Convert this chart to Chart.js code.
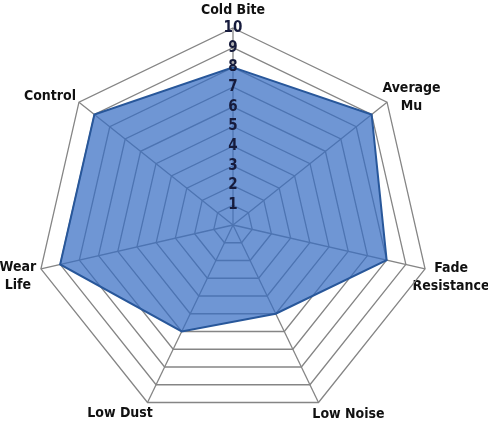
<!DOCTYPE html>
<html>
<head>
<meta charset="utf-8">
<script src="https://cdn.jsdelivr.net/npm/chart.js@4.4.1/dist/chart.umd.min.js"></script>
<style>
  html, body { margin: 0; padding: 0; background: #ffffff; }
  canvas { display: block; }
</style>
</head>
<body>
<canvas id="c" width="488" height="422"></canvas>
<script>
// ---- data ----
const categories = ['Cold Bite', ['Average', 'Mu'], ['Fade', 'Resistance'], 'Low Noise', 'Low Dust', ['Wear', 'Life'], 'Control'];
const ratings = [8, 9, 8, 5, 6, 9, 9];
const tickLabels = ['0', '1', '2', '3', '4', '5', '6', '7', '8', '9', '10'];
const scaleMin = 0;
const scaleMax = 10;

// ---- layout (not data) ----
const CENTER_X = 233, CENTER_Y = 225, RADIUS = 197;
const LABEL_SIZE = 14, LABEL_LH = 1.3;
const LABEL_LINE_HEIGHT = LABEL_SIZE * LABEL_LH;
// label block centre offset from the outer vertex of each spoke
const labelOffsets = [[0, -17.5], [24.5, -4.7], [26, 8.2], [30, 11.5], [-27.5, 11], [-23, 7.2], [-29, -6.2]];

const geometryPlugin = {
  id: 'geometry',
  afterLayout(chart) {
    const s = chart.scales.r;
    s.xCenter = CENTER_X;
    s.yCenter = CENTER_Y;
    s.drawingArea = RADIUS;
    if (!s._pointLabelItems) return;
    s._pointLabelItems = s._pointLabelItems.map((item, i) => {
      const p = s.getPointPosition(i, s.drawingArea);
      const lbl = s._pointLabels[i];
      const n = Array.isArray(lbl) ? lbl.length : 1;
      const cx = p.x + labelOffsets[i][0];
      const cy = p.y + labelOffsets[i][1];
      const y = cy - n * LABEL_LINE_HEIGHT / 2;
      return Object.assign({}, item, {
        visible: true, x: cx, y: y, textAlign: 'center',
        left: cx - 35, right: cx + 35, top: y, bottom: y + n * LABEL_LINE_HEIGHT
      });
    });
  }
};

const FONT = '"Liberation Sans Narrow", "DejaVu Sans Condensed", "Liberation Sans", Arial, sans-serif';

new Chart(document.getElementById('c'), {
  type: 'radar',
  data: {
    labels: categories,
    datasets: [{
      data: ratings,
      backgroundColor: 'rgba(56, 110, 196, 0.72)',
      borderColor: '#28579a',
      borderWidth: 2,
      pointRadius: 0,
      pointHoverRadius: 0,
      fill: true,
      tension: 0
    }]
  },
  options: {
    responsive: false,
    animation: false,
    devicePixelRatio: 1,
    plugins: { legend: { display: false }, tooltip: { enabled: false } },
    scales: {
      r: {
        min: scaleMin,
        max: scaleMax,
        startAngle: 0,
        grid: { color: '#858585', lineWidth: 1.3 },
        angleLines: { color: '#858585', lineWidth: 1.3 },
        ticks: {
          stepSize: 1,
          z: 1,
          showLabelBackdrop: false,
          color: '#161b3c',
          font: { family: FONT, size: 15, weight: 'bold' },
          callback: (v) => tickLabels[v]
        },
        pointLabels: {
          color: '#111111',
          font: { family: FONT, size: LABEL_SIZE, weight: 'bold', lineHeight: LABEL_LH },
          padding: 0
        }
      }
    }
  },
  plugins: [geometryPlugin]
});
</script>
</body>
</html>
